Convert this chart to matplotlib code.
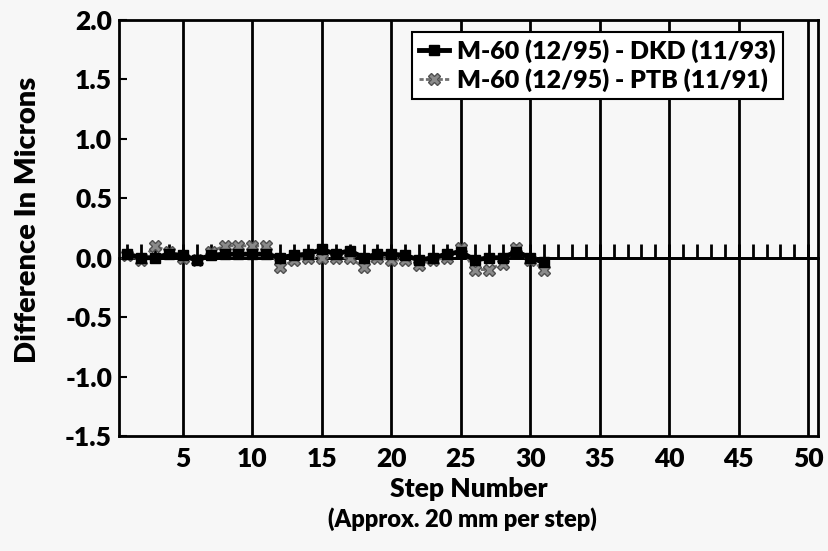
import numpy as np
import matplotlib
matplotlib.use('Agg')
import matplotlib.pyplot as plt

plt.rcParams['font.family'] = ['Lato', 'DejaVu Sans']
plt.rcParams['font.weight'] = 'heavy'

# Step numbers and the two difference series (microns)
steps = np.arange(1, 32)
dkd = [0.03, 0.00, 0.00, 0.03, 0.02, -0.02, 0.02, 0.03, 0.03, 0.03, 0.03,
       0.00, 0.02, 0.03, 0.07, 0.03, 0.06, 0.00, 0.03, 0.03, 0.02, -0.02,
       0.00, 0.03, 0.05, -0.02, 0.00, 0.00, 0.05, 0.00, -0.04]
ptb = [0.02, -0.02, 0.10, 0.05, 0.00, -0.02, 0.05, 0.10, 0.10, 0.10, 0.10,
       -0.08, -0.02, 0.00, 0.00, 0.00, 0.00, -0.08, 0.00, -0.02, -0.02, -0.06,
       -0.02, 0.00, 0.08, -0.10, -0.10, -0.05, 0.08, -0.02, -0.10]
labels = ['M-60 (12/95) - DKD (11/93)', 'M-60 (12/95) - PTB (11/91)']
xticks = [5, 10, 15, 20, 25, 30, 35, 40, 45, 50]
yticks = [-1.5, -1.0, -0.5, 0.0, 0.5, 1.0, 1.5, 2.0]

bg = '#f7f7f7'
fig = plt.figure(figsize=(8.29, 5.51), dpi=100, facecolor=bg)
ax = fig.add_axes([0.1435, 0.2087, 0.8432, 0.7550], facecolor=bg)

ax.set_xlim(0.4, 50.7)
ax.set_ylim(-1.5, 2.0)

# vertical grid at every 5 steps
for xv in xticks:
    ax.axvline(xv, color='black', lw=2, zorder=1)
ax.axhline(0, color='black', lw=2, zorder=1)

# zero axis with a small tick at every step
sec = ax.secondary_xaxis(1.5 / 3.5)
sec.set_xticks(np.arange(1, 51))
sec.tick_params(direction='in', length=10, width=2, labelbottom=False)
sec.spines['bottom'].set_linewidth(2)

ax.plot(steps, ptb, color='#707070', lw=2, ls=(0, (1.5, 0.8)), marker='X',
        ms=8, mfc='#8a8a8a', mec='#505050', label=labels[1], zorder=3)
ax.plot(steps, dkd, color='black', lw=3.5, marker='s', ms=6.5, label=labels[0],
        zorder=4)

ax.set_xticks(xticks)
ax.set_yticks(yticks)
ax.set_yticklabels(['%.1f' % v for v in yticks])
ax.tick_params(axis='x', length=0, labelsize=19, pad=8)
ax.tick_params(axis='y', direction='in', length=6, width=1.5, labelsize=19, pad=5)
for s in ax.spines.values():
    s.set_linewidth(2)

ax.set_ylabel('Difference In Microns', fontsize=21, fontweight='heavy', labelpad=4)
ax.yaxis.set_label_coords(-0.112, 0.52)
ax.set_xlabel('Step Number', fontsize=19, fontweight='heavy', labelpad=4)
fig.text(0.558, 0.057, '(Approx. 20 mm per step)', ha='center', va='center',
         fontsize=17, fontweight='heavy')

handles, labs = ax.get_legend_handles_labels()
leg = ax.legend(handles[::-1], labs[::-1], loc='upper right',
                bbox_to_anchor=(0.95, 0.971), fontsize=18, frameon=True,
                fancybox=False, framealpha=1, edgecolor='black',
                handlelength=1.2, handletextpad=0.3, borderpad=0.3,
                labelspacing=0.2, borderaxespad=0)
leg.get_frame().set_linewidth(1.5)
leg.set_zorder(5)

fig.savefig('out.png', dpi=100, facecolor=bg)
